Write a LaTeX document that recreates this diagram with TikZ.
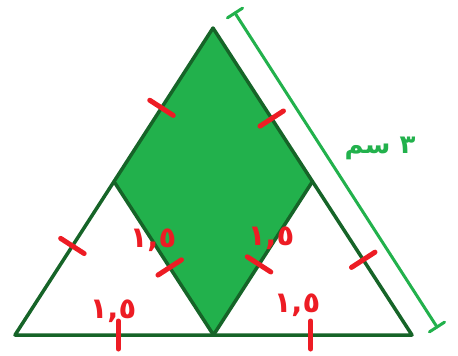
\documentclass[tikz,border=0pt]{standalone}
\usepackage{fontspec}
\usetikzlibrary{calc}
\TeXXeTstate=1
\newfontfamily\arabicfont[Script=Arabic]{DejaVu Sans}
\definecolor{rhombFill}{RGB}{34, 177, 76}
\definecolor{edgeDark}{RGB}{22, 100, 40}
\definecolor{dimGreen}{RGB}{34, 177, 76}
\definecolor{tickRed}{RGB}{237, 28, 36}
\tikzset{
  edge/.style={draw=edgeDark, line width=3.5pt, line join=round},
  ticker/.style={draw=tickRed, line width=5pt, line cap=round},
  dimline/.style={draw=dimGreen, line width=3pt, line cap=round},
  halflab/.style={text=tickRed, font=\arabicfont\bfseries\fontsize{29}{32}\selectfont, inner sep=0pt}
}
\begin{document}
\begin{tikzpicture}[x=1pt, y=-1pt]
  \useasboundingbox (0,0) rectangle (458,356);

  % Triangle corners and midpoints
  \coordinate (A) at (15,335);
  \coordinate (B) at (412,335);
  \coordinate (C) at (213,28);
  \coordinate (mAC) at ($(A)!0.5!(C)$);
  \coordinate (mBC) at ($(B)!0.5!(C)$);
  \coordinate (mAB) at ($(A)!0.5!(B)$);

  % Green rhombus
  \fill[rhombFill] (C) -- (mBC) -- (mAB) -- (mAC) -- cycle;
  \draw[edge] (mAC) -- (mAB) -- (mBC);
  \draw[edge] (A) -- (B) -- (C) -- cycle;

  % Equal-length tick marks
  \foreach \p/\q/\f in {C/mAC/0.52, C/mBC/0.59, mAC/A/0.42, mBC/B/0.51,
                        mAC/mAB/0.56, mBC/mAB/0.54, A/mAB/0.52, mAB/B/0.49} {
    \coordinate (t) at ($(\p)!\f!(\q)$);
    \draw[ticker] ($(t)!14pt!90:(\q)$) -- ($(t)!14pt!-90:(\q)$);
  }

  % Length of the side
  \coordinate (d1) at (235,13);
  \coordinate (d2) at (437,327);
  \draw[dimline] (d1) -- (d2);
  \draw[dimline] ($(d1)!9pt!90:(d2)$) -- ($(d1)!9pt!-90:(d2)$);
  \draw[dimline] ($(d2)!9pt!90:(d1)$) -- ($(d2)!9pt!-90:(d1)$);
  \node[text=dimGreen, font=\arabicfont\bfseries\fontsize{26}{30}\selectfont, inner sep=0pt]
    (sidelab) at (380,148) {\beginR ٣ سم\endR};

  % Half lengths
  \node[halflab] (h1) at (153,240) {١,٥};
  \node[halflab] (h2) at (271,238) {١,٥};
  \node[halflab] (h3) at (113,311) {١,٥};
  \node[halflab] (h4) at (297,305) {١,٥};
\end{tikzpicture}
\end{document}
